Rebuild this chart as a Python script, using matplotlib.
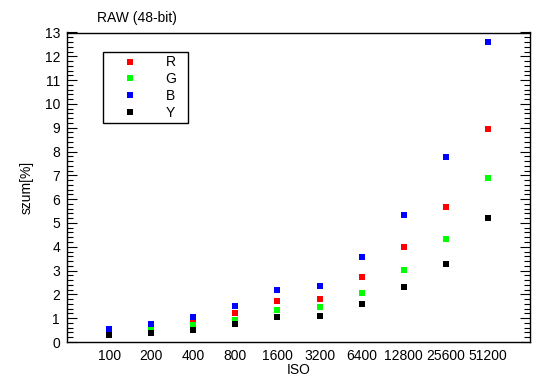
import matplotlib
matplotlib.use('Agg')
import matplotlib.pyplot as plt
from matplotlib.ticker import MultipleLocator

plt.rcParams['font.family'] = ['Liberation Sans', 'DejaVu Sans']

iso = ['100', '200', '400', '800', '1600', '3200', '6400', '12800', '25600', '51200']
r_vals = [0.48, 0.60, 0.84, 1.21, 1.71, 1.80, 2.72, 3.98, 5.67, 8.95]
g_vals = [0.42, 0.50, 0.72, 0.93, 1.33, 1.46, 2.05, 3.02, 4.32, 6.89]
b_vals = [0.53, 0.76, 1.04, 1.50, 2.17, 2.34, 3.56, 5.33, 7.77, 12.61]
y_vals = [0.28, 0.38, 0.52, 0.74, 1.04, 1.08, 1.59, 2.30, 3.27, 5.20]

series = [('R', r_vals, '#ff0000'), ('G', g_vals, '#00ff00'),
          ('B', b_vals, '#0000ff'), ('Y', y_vals, '#000000')]

fig = plt.figure(figsize=(5.5, 3.89), dpi=100)
ax = fig.add_axes([67/550, 47/389, 463/550, 309.5/389])

xs = list(range(1, len(iso) + 1))
for name, vals, col in series:
    ax.plot(xs, vals, 's', color=col, markersize=4, markeredgewidth=0, label=name)

ax.set_xlim(0, 11)
ax.set_ylim(0, 13)
ax.set_xticks(xs)
ax.set_xticklabels(iso)
ax.yaxis.set_major_locator(MultipleLocator(1))
ax.yaxis.set_minor_locator(MultipleLocator(0.2))
ax.tick_params(axis='x', length=0, labelsize=10, pad=5)
ax.tick_params(axis='y', which='major', direction='in', length=7, left=True, right=True,
               labelsize=10, width=0.8, pad=5)
ax.tick_params(axis='y', which='minor', direction='in', length=4, left=True, right=True, width=0.8)
for s in ax.spines.values():
    s.set_linewidth(1)

ax.set_xlabel('ISO', fontsize=10, labelpad=0)
ax.set_ylabel('szum[%]', fontsize=10, labelpad=8)
fig.text(137/550, 1 - 18/389, 'RAW (48-bit)', ha='center', va='center', fontsize=10)

leg = ax.legend(loc='upper left', bbox_to_anchor=(0.078, 0.937), borderaxespad=0,
                fancybox=False, edgecolor='black', framealpha=1, fontsize=10,
                handlelength=3.4, handletextpad=0.9, labelspacing=0.2,
                borderpad=0.25, numpoints=1)
leg.get_frame().set_linewidth(1)
for t in leg.get_texts():
    t.set_text(t.get_text() + '  ')

fig.savefig('out.png', dpi=100)
